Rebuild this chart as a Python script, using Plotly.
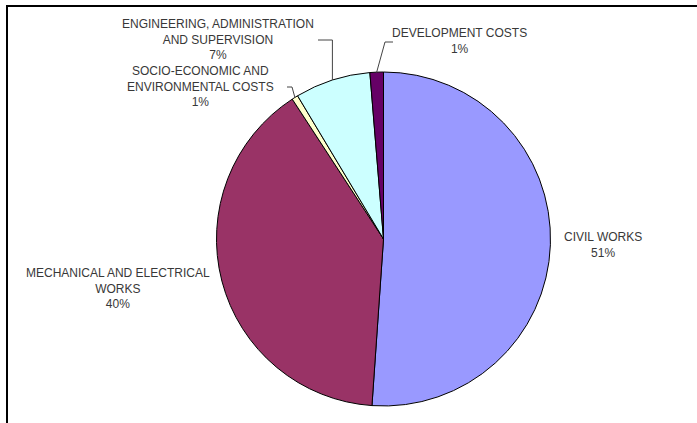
import math
import plotly.graph_objects as go

# ---- data ----
categories = [
    "CIVIL WORKS",
    "MECHANICAL AND ELECTRICAL WORKS",
    "SOCIO-ECONOMIC AND ENVIRONMENTAL COSTS",
    "ENGINEERING, ADMINISTRATION AND SUPERVISION",
    "DEVELOPMENT COSTS",
]
values = [51.1, 39.7, 0.6, 7.3, 1.3]
label_lines = [
    "CIVIL WORKS",
    "MECHANICAL AND ELECTRICAL<br>WORKS",
    "SOCIO-ECONOMIC AND<br>ENVIRONMENTAL COSTS",
    "ENGINEERING, ADMINISTRATION<br>AND SUPERVISION",
    "DEVELOPMENT COSTS",
]
colors = ["#9999FF", "#993366", "#FFFFCC", "#CCFFFF", "#660066"]

# ---- layout constants (pixels) ----
W, H = 697, 423
CX, CY, R = 383.5, 239.0, 167.0

def px(x):
    return x / W

def py(y):
    return 1 - y / H

fig = go.Figure(
    go.Pie(
        labels=categories,
        values=values,
        sort=False,
        direction="clockwise",
        rotation=0,
        marker=dict(colors=colors, line=dict(color="#000000", width=1)),
        textinfo="none",
        hoverinfo="label+percent",
        showlegend=False,
        domain=dict(x=[px(CX - R), px(CX + R)], y=[py(CY + R), py(CY - R)]),
    )
)

total = sum(values)
pcts = [round(v / total * 100) for v in values]

# slice mid-point on the rim, derived from the data
mids = []
cum = 0.0
for v in values:
    a = (cum + v / 2) / total * 2 * math.pi
    mids.append((CX + R * math.sin(a), CY - R * math.cos(a)))
    cum += v

# label placement (pixels)
label_pos = [(603, 245), (118, 288), (200, 87), (218, 39), (460, 41)]
# leader elbows: (start point, elbow point) or None
leaders = [None, None, ((287, 87), (292, 87)), ((318, 40), None), ((393, 42), (385, 42))]

font = dict(family="Liberation Sans, Arial, sans-serif", size=12, color="#383838")
annotations = []
for i, (lx, ly) in enumerate(label_pos):
    annotations.append(
        dict(
            x=px(lx), y=py(ly), xref="paper", yref="paper",
            text=f"{label_lines[i]}<br>{pcts[i]}%",
            showarrow=False, xanchor="center", yanchor="middle",
            align="center", font=font,
        )
    )

shapes = []
for i, ld in enumerate(leaders):
    if ld is None:
        continue
    (sx, sy), elbow = ld
    ex, ey = mids[i]
    if elbow is None:
        elbow = (ex, sy)
    path = f"M {px(sx)},{py(sy)} L {px(elbow[0])},{py(elbow[1])} L {px(ex)},{py(ey)}"
    shapes.append(dict(type="path", xref="paper", yref="paper", path=path,
                       line=dict(color="#444444", width=1)))

# outer frame
shapes.append(dict(type="rect", xref="paper", yref="paper",
                   x0=px(7), x1=1.05, y0=-0.05, y1=py(6),
                   line=dict(color="#000000", width=2)))

fig.update_layout(
    width=W, height=H,
    margin=dict(l=0, r=0, t=0, b=0),
    paper_bgcolor="white", plot_bgcolor="white",
    annotations=annotations, shapes=shapes,
)

fig.write_html("out.html")
